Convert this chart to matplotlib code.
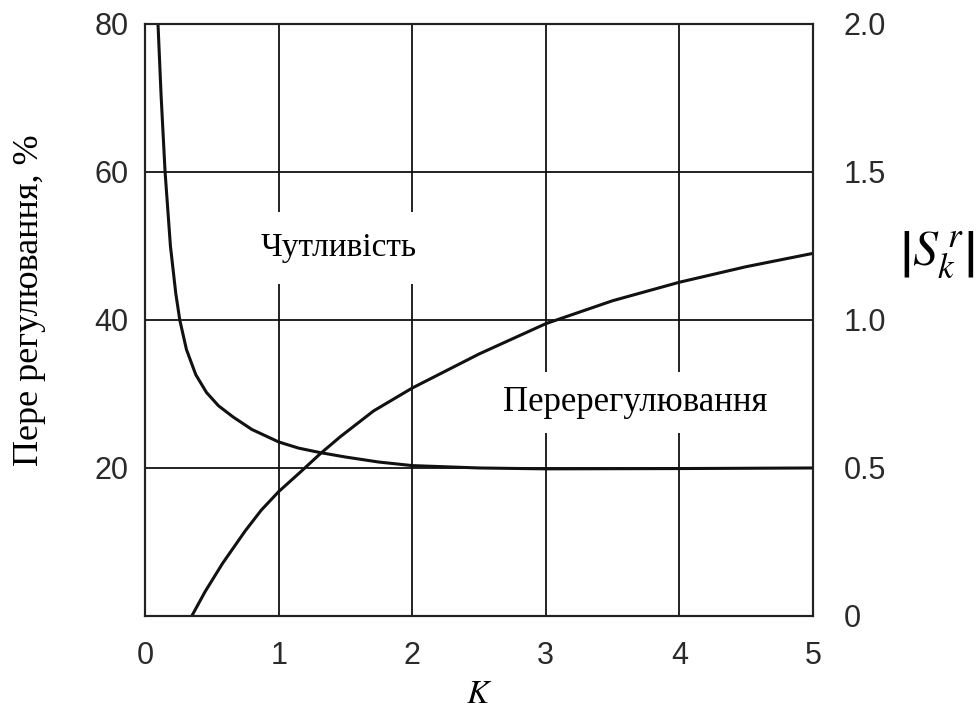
import matplotlib.pyplot as plt

plt.rcParams['mathtext.fontset'] = 'stix'

# K values and overshoot, %
k_over = [0.35, 0.45, 0.58, 0.75, 0.87, 1.0, 1.16, 1.31, 1.46, 1.71, 2.0, 2.5, 3.0, 3.5, 4.0, 4.5, 5.0]
overshoot = [0.0, 3.3, 7.1, 11.5, 14.3, 16.8, 19.4, 21.9, 24.2, 27.7, 30.8, 35.4, 39.5, 42.6, 45.1, 47.2, 49.0]

# K values and sensitivity |S_k^r|
k_sens = [0.09, 0.097, 0.12, 0.15, 0.19, 0.23, 0.26, 0.31, 0.38, 0.46, 0.55, 0.66, 0.8, 1.0,
          1.15, 1.31, 1.5, 1.75, 2.0, 2.5, 3.0, 4.0, 5.0]
sens = [2.08, 2.0, 1.76, 1.5, 1.25, 1.09, 1.0, 0.9, 0.815, 0.755, 0.71, 0.672, 0.63, 0.588,
        0.567, 0.552, 0.537, 0.52, 0.508, 0.5, 0.497, 0.498, 0.5]

x_ticks = [0, 1, 2, 3, 4, 5]
left_ticks = [20, 40, 60, 80]
right_ticks = [0, 0.5, 1.0, 1.5, 2.0]
right_labels = ['0', '0.5', '1.0', '1.5', '2.0']

serif = ['Liberation Serif', 'DejaVu Serif']
tickfont = ['Liberation Sans', 'DejaVu Sans']

fig = plt.figure(figsize=(9.8, 7.15), dpi=100)
ax = fig.add_axes([0.148, 0.1385, 0.6816, 0.828])
ax2 = ax.twinx()

ax.set_xlim(0, 5)
ax.set_ylim(0, 80)
ax2.set_ylim(0, 2.0)

ax.set_xticks(x_ticks)
ax.set_yticks(left_ticks)
ax2.set_yticks(right_ticks)
ax2.set_yticklabels(right_labels)

for a in (ax, ax2):
    a.tick_params(length=0, labelsize=22, colors='#2a2a2a')
    for lab in a.get_xticklabels() + a.get_yticklabels():
        lab.set_family(tickfont)
    for s in a.spines.values():
        s.set_linewidth(1.5)
        s.set_color('#222222')
ax.tick_params(axis='y', pad=12)
ax.tick_params(axis='x', pad=18)
ax2.tick_params(axis='y', pad=22)

ax.grid(True, color='#111111', linewidth=1.3)
ax.set_axisbelow(True)

ax.plot(k_over, overshoot, color='#111111', linewidth=2.2, zorder=3)
ax2.plot(k_sens, sens, color='#111111', linewidth=2.2)

ax.text(1.45, 49.7, 'Чутливість', family=serif, fontsize=24, ha='center', va='center',
        bbox=dict(facecolor='white', edgecolor='none', pad=15), zorder=4)
ax.text(3.67, 28.8, 'Перерегулювання', family=serif, fontsize=25, ha='center', va='center',
        bbox=dict(facecolor='white', edgecolor='none', pad=10), zorder=4)

ax.set_xlabel('$K$', fontsize=24, labelpad=4)
ax.set_ylabel('Пере регулювання, %', family=serif, fontsize=26)
ax.yaxis.set_label_coords(-0.149, 0.534)
fig.text(0.956, 0.644, r'$\left|S_{k}^{\,r}\right|$', fontsize=36, ha='center', va='center')

fig.savefig('out.png', dpi=100, facecolor='white')
